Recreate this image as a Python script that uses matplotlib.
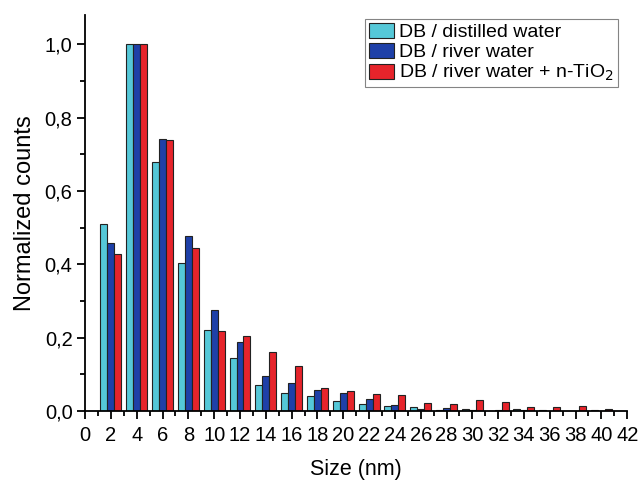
import matplotlib
matplotlib.use("Agg")
import matplotlib.pyplot as plt
import numpy as np
from matplotlib.ticker import MultipleLocator, FuncFormatter

plt.rcParams['font.family'] = ['Liberation Sans', 'DejaVu Sans']

sizes = np.arange(2, 42, 2)
distilled = [0.51, 1.0, 0.678, 0.404, 0.22, 0.145, 0.071, 0.05, 0.042, 0.027,
             0.019, 0.015, 0.011, 0.003, 0.006, 0.0, 0.007, 0.002, 0.0, 0.002]
river = [0.459, 1.0, 0.743, 0.477, 0.277, 0.188, 0.095, 0.077, 0.057, 0.05,
         0.033, 0.018, 0.005, 0.009, 0.003, 0.002, 0.003, 0.001, 0.0, 0.001]
river_tio2 = [0.429, 1.0, 0.74, 0.446, 0.218, 0.204, 0.16, 0.123, 0.064, 0.055,
              0.046, 0.044, 0.022, 0.019, 0.03, 0.024, 0.012, 0.01, 0.014, 0.005]

labels = ["DB / distilled water", "DB / river water", "DB / river water + n-TiO$_2$"]
colors = ["#55c8d8", "#1e40a8", "#e6242b"]

fig = plt.figure(figsize=(6.4, 4.82), dpi=100)
ax = fig.add_axes([0.133, 0.147, 0.847, 0.822])

w = 0.54
for i, (vals, lab, col) in enumerate(zip([distilled, river, river_tio2], labels, colors)):
    ax.bar(sizes + (i - 1) * w, vals, width=w, color=col, edgecolor="#222222",
           linewidth=0.8, label=lab)

ax.set_xlim(0, 42)
ax.set_ylim(0, 1.08)
ax.xaxis.set_major_locator(MultipleLocator(2))
ax.xaxis.set_minor_locator(MultipleLocator(1))
ax.yaxis.set_major_locator(MultipleLocator(0.2))
ax.yaxis.set_minor_locator(MultipleLocator(0.1))
ax.yaxis.set_major_formatter(FuncFormatter(lambda v, p: f"{v:.1f}".replace(".", ",")))

for s in ["top", "right"]:
    ax.spines[s].set_visible(False)
for s in ["left", "bottom"]:
    ax.spines[s].set_linewidth(1.3)

ax.tick_params(which="major", length=6, width=1.3, labelsize=14.5, direction="out")
ax.tick_params(which="minor", length=3.5, width=1.3, direction="out")
ax.tick_params(axis="x", pad=5)
ax.tick_params(axis="y", pad=3)

ax.set_xlabel("Size (nm)", fontsize=15.5, labelpad=10)
ax.set_ylabel("Normalized counts", fontsize=17, labelpad=6)

leg = ax.legend(loc="upper right", fontsize=14, frameon=True, fancybox=False,
                edgecolor="#666666", handlelength=1.3, handleheight=0.8,
                handletextpad=0.25, labelspacing=0.1, borderpad=0.2,
                borderaxespad=0.2, bbox_to_anchor=(0.99, 1.0))
leg.get_frame().set_linewidth(0.8)

fig.savefig("out.png", dpi=100)
